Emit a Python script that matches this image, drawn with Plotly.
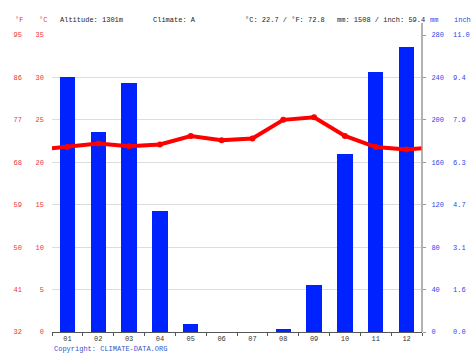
import plotly.graph_objects as go

months = ["01", "02", "03", "04", "05", "06", "07", "08", "09", "10", "11", "12"]
precip_mm = [240, 189, 235, 114, 7.5, 0, 0, 2.5, 44, 168, 245, 269]
temp_c = [21.8, 22.2, 21.9, 22.1, 23.1, 22.6, 22.8, 25.0, 25.3, 23.1, 21.8, 21.5]

c_ticks = [0, 5, 10, 15, 20, 25, 30, 35]
f_labels = ["32", "41", "50", "59", "68", "77", "86", "95"]
mm_ticks = [0, 40, 80, 120, 160, 200, 240, 280]
inch_labels = ["0.0", "1.6", "3.1", "4.7", "6.3", "7.9", "9.4", "11.0"]

header_left = "Altitude: 1301m"
header_climate = "Climate: A"
header_temp = "°C: 22.7 / °F: 72.8"
header_prec = "mm: 1508 / inch: 59.4"
copyright_txt = "Copyright: CLIMATE-DATA.ORG"

W, H = 474, 355
L, R, T, B = 52, 422, 35, 332
FONT = "Liberation Mono"
FS = 7
RED = "#ee3333"
BLUE = "#3344ee"

x = list(range(1, 13))
edge = (temp_c[0] + temp_c[-1]) / 2

def px(v):
    return v / W

def py(v):
    return (B - v) / (B - T)

fig = go.Figure()
fig.add_trace(go.Bar(x=x, y=precip_mm, width=0.5, marker=dict(color="#0022ff", line=dict(width=0)),
                     yaxis="y", hoverinfo="skip"))
fig.add_trace(go.Scatter(x=[0.5] + x + [12.5], y=[edge] + temp_c + [edge], mode="lines",
                         line=dict(color="#ff0000", width=4), yaxis="y2", hoverinfo="skip"))
fig.add_trace(go.Scatter(x=x, y=temp_c, mode="markers", marker=dict(color="#ff0000", size=6),
                         yaxis="y2", hoverinfo="skip"))
fig.add_trace(go.Scatter(x=[1], y=[None], yaxis="y3", showlegend=False))
fig.add_trace(go.Scatter(x=[1], y=[None], yaxis="y4", showlegend=False))

fig.update_layout(
    width=W, height=H, showlegend=False, bargap=0,
    margin=dict(l=0, r=0, t=T, b=H - B, pad=0),
    plot_bgcolor="white", paper_bgcolor="white",
    font=dict(family=FONT, size=FS, color="#222"),
    xaxis=dict(domain=[px(L), px(R)], range=[0.5, 12.5], tickvals=x, ticktext=months,
               ticks="", showgrid=False, zeroline=False, showline=True, linecolor="#555", linewidth=1,
               tickfont=dict(family=FONT, size=FS, color="#333"),
               minor=dict(tick0=0.5, dtick=1, ticks="outside", ticklen=3, tickcolor="#555", showgrid=False)),
    yaxis=dict(range=[0, 280], tickvals=mm_ticks, side="right", anchor="free", position=px(R),
               showgrid=True, gridcolor="#dddddd", gridwidth=1, zeroline=False, showline=False,
               ticks="outside", ticklen=3, tickcolor="#999",
               tickfont=dict(family=FONT, size=FS, color=BLUE), ticklabelstandoff=4),
    yaxis2=dict(range=[0, 35], tickvals=c_ticks, overlaying="y", side="left", anchor="free",
                position=px(L), showgrid=False, zeroline=False, showline=False, ticks="",
                tickfont=dict(family=FONT, size=FS, color=RED), ticklabelstandoff=8),
    yaxis3=dict(range=[0, 35], tickvals=c_ticks, ticktext=f_labels, overlaying="y", side="left",
                anchor="free", position=px(22), showgrid=False, zeroline=False, showline=False,
                ticks="", tickfont=dict(family=FONT, size=FS, color=RED), ticklabelstandoff=0),
    yaxis4=dict(range=[0, 280], tickvals=mm_ticks, ticktext=inch_labels, overlaying="y", side="right",
                anchor="free", position=px(452), showgrid=False, zeroline=False, showline=False,
                ticks="", tickfont=dict(family=FONT, size=FS, color=BLUE), ticklabelstandoff=0),
)

fig.add_shape(type="line", xref="paper", yref="paper", x0=px(R), x1=px(R), y0=0, y1=py(23),
              line=dict(color="#999", width=1.5))

def ann(text, xpix, ypix, color, anchor="left"):
    fig.add_annotation(text=text, xref="paper", yref="paper", x=px(xpix), y=py(ypix),
                       xanchor=anchor, yanchor="middle", showarrow=False,
                       font=dict(family=FONT, size=FS, color=color))

ann("°F", 13, 20, RED)
ann("°C", 37, 20, RED)
ann(header_left, 58, 20, "#222")
ann(header_climate, 151, 20, "#222")
ann(header_temp, 243, 20, "#222")
ann(header_prec, 335, 20, "#222")
ann("mm", 428, 20, BLUE)
ann("inch", 452, 20, BLUE)
ann(copyright_txt, 52, 349, "#3355cc")

fig.write_html("out.html", config={"displayModeBar": False, "staticPlot": True},
               post_script="document.body.style.margin='0';document.body.style.overflow='hidden';")
